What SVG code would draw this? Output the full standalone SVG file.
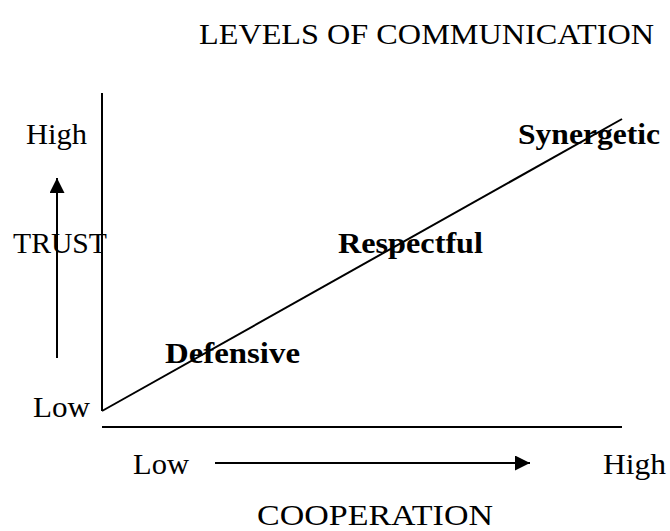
<svg xmlns="http://www.w3.org/2000/svg" width="670" height="531" viewBox="0 0 670 531">
<style>
text{font-family:"Liberation Serif","DejaVu Serif",serif;font-size:29px;fill:#000}
.b{font-weight:bold}
line{stroke:#000;stroke-width:2}
</style>
<defs>
<marker id="ah" viewBox="0 0 10 10" refX="10" refY="5" markerWidth="16" markerHeight="15" markerUnits="userSpaceOnUse" orient="auto">
<path d="M0,0 L10,5 L0,10 Z" fill="#000"/>
</marker>
</defs>
<rect width="670" height="531" fill="#fff"/>
<g id="title"><text x="199" y="44" textLength="455" lengthAdjust="spacingAndGlyphs">LEVELS OF COMMUNICATION</text></g>
<g id="connectors">
<line x1="102" y1="93" x2="102" y2="411"/>
<line x1="102" y1="427" x2="622" y2="427"/>
<line x1="102" y1="411" x2="622" y2="119"/>
<line x1="57" y1="358" x2="57" y2="178" marker-end="url(#ah)"/>
<line x1="215" y1="463" x2="530" y2="463" marker-end="url(#ah)"/>
</g>
<g id="trust-high"><text x="26" y="144" textLength="61" lengthAdjust="spacingAndGlyphs">High</text></g>
<g id="trust"><text x="13" y="253" textLength="94" lengthAdjust="spacingAndGlyphs">TRUST</text></g>
<g id="trust-low"><text x="33" y="417" textLength="57" lengthAdjust="spacingAndGlyphs">Low</text></g>
<g id="coop-low"><text x="133" y="474" textLength="56" lengthAdjust="spacingAndGlyphs">Low</text></g>
<g id="coop-high"><text x="603" y="474" textLength="63" lengthAdjust="spacingAndGlyphs">High</text></g>
<g id="cooperation"><text x="257" y="525" textLength="236" lengthAdjust="spacingAndGlyphs">COOPERATION</text></g>
<g id="defensive"><text class="b" x="165" y="363" textLength="135" lengthAdjust="spacingAndGlyphs">Defensive</text></g>
<g id="respectful"><text class="b" x="338" y="253" textLength="145" lengthAdjust="spacingAndGlyphs">Respectful</text></g>
<g id="synergetic"><text class="b" x="518" y="144" textLength="142" lengthAdjust="spacingAndGlyphs">Synergetic</text></g>
</svg>
